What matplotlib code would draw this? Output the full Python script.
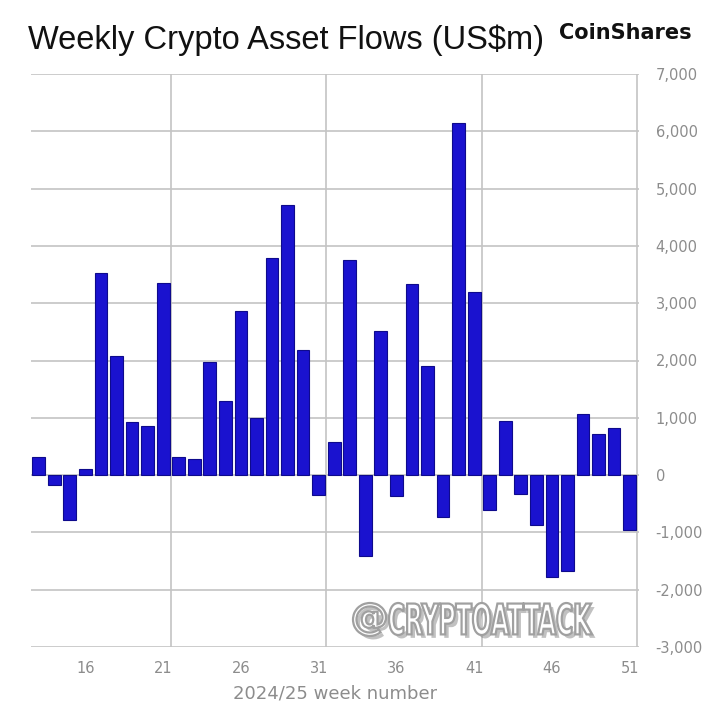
import matplotlib
matplotlib.use("Agg")
import matplotlib.pyplot as plt
import matplotlib.patheffects as pe
from matplotlib.textpath import TextPath
from matplotlib.patches import PathPatch
from matplotlib.font_manager import FontProperties
from matplotlib.transforms import Affine2D, IdentityTransform

# weekly flows, US$m, weeks 13..51
weeks = list(range(13, 52))
flows = [310, -180, -780, 100, 3520, 2070, 920, 855, 3360, 320,
         280, 1970, 1290, 2870, 990, 3790, 4720, 2190, -340, 580,
         3750, -1410, 2520, -360, 3330, 1910, -730, 6150, 3200, -610,
         940, -330, -870, -1770, -1680, 1070, 710, 815, -960]
xtick_weeks = [16, 21, 26, 31, 36, 41, 46, 51]
yticks = list(range(-3000, 8000, 1000))

grey = '#8c8c8c'
gridc = '#c4c4c4'

fig = plt.figure(figsize=(7.2, 7.09), dpi=100)
ax = fig.add_axes([31 / 720, 1 - 647 / 709, 608 / 720, 573 / 709])

ax.bar(weeks, flows, width=0.82, color='#1a12cf', edgecolor='#0e0a8c',
       linewidth=0.8, zorder=3)

ax.set_xlim(12.5, 51.6)
ax.set_ylim(-3000, 7000)

ax.set_xticks(xtick_weeks)
ax.set_xticks([w + 0.5 for w in [21, 31, 41, 51]], minor=True)
ax.grid(True, which='minor', axis='x', color=gridc, linewidth=1.2, zorder=1)
ax.set_yticks(yticks)
ax.grid(True, which='major', axis='y', color=gridc, linewidth=1.2, zorder=1)

ax.yaxis.tick_right()
ax.set_yticklabels([f'{v:,}' for v in yticks])
ax.tick_params(axis='both', which='both', length=0, labelcolor=grey,
               labelsize=10.5)
ax.tick_params(axis='y', pad=12)
ax.tick_params(axis='x', pad=10)

for s in ax.spines.values():
    s.set_visible(False)

ax.set_xlabel('2024/25 week number', color=grey, fontsize=13, labelpad=6)

fig.text(28 / 720, 1 - 40 / 709, 'Weekly Crypto Asset Flows (US$m)',
         fontsize=23.5, family='Liberation Sans', color='#111111',
         va='center', ha='left')
fig.text(692 / 720, 1 - 33 / 709, 'CoinShares', fontsize=15,
         family='DejaVu Sans', weight='bold', color='#111111',
         va='center', ha='right')


# watermark, squeezed horizontally to look condensed
def add_mark(text, x0, x1, base, height):
    tp = TextPath((0, 0), text, size=1,
                  prop=FontProperties(family='DejaVu Sans', weight='bold'))
    ext = tp.get_extents()
    tr = (Affine2D().translate(-ext.x0, -ext.y0)
          .scale((x1 - x0) / ext.width, height / ext.height)
          .translate(x0, base))
    patch = PathPatch(tr.transform_path(tp), facecolor='white',
                      edgecolor='#a0a0a0', linewidth=1.6,
                      transform=IdentityTransform(), zorder=5)
    patch.set_path_effects([pe.SimplePatchShadow(offset=(2.5, -2.5),
                                                 shadow_rgbFace='#777777',
                                                 alpha=0.45),
                            pe.Normal()])
    fig.add_artist(patch)


add_mark('@', 353, 386, 709 - 636, 33)
add_mark('CRYPTOATTACK', 389, 592, 709 - 635, 32)

fig.savefig('out.png', dpi=100, facecolor='white')
